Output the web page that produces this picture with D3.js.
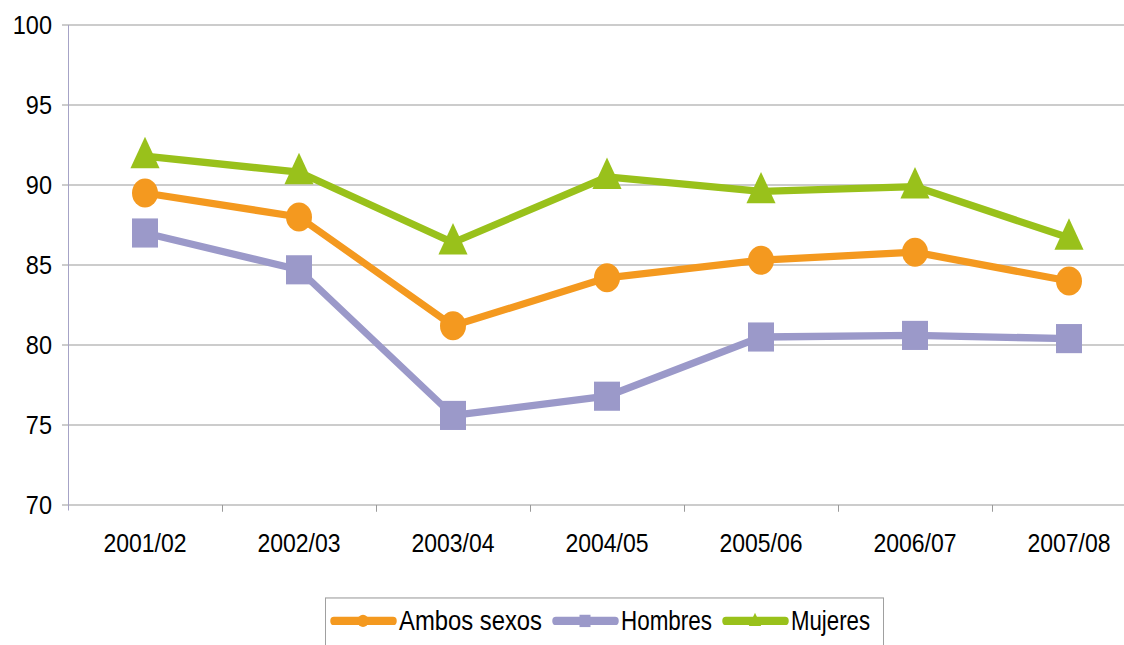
<!DOCTYPE html>
<html>
<head>
<meta charset="utf-8">
<script src="https://cdn.jsdelivr.net/npm/d3@7"></script>
<style>
  html, body { margin: 0; padding: 0; background: #fff; overflow: hidden; }
  svg { display: block; font-family: "Liberation Sans", Arial, sans-serif; }
</style>
</head>
<body>
<div id="chart"></div>
<script>
const categories = ["2001/02", "2002/03", "2003/04", "2004/05", "2005/06", "2006/07", "2007/08"];
const ambosSexos = [89.5, 88.0, 81.2, 84.2, 85.3, 85.8, 84.0];
const hombres    = [87.0, 84.7, 75.6, 76.8, 80.5, 80.6, 80.4];
const mujeres    = [91.8, 90.8, 86.4, 90.5, 89.6, 89.9, 86.7];
const yTicks = [70, 75, 80, 85, 90, 95, 100];

const series = [
  { name: "Ambos sexos", values: ambosSexos, color: "#F4991F", shape: "circle" },
  { name: "Hombres",     values: hombres,    color: "#9B99C9", shape: "square" },
  { name: "Mujeres",     values: mujeres,    color: "#99C11B", shape: "triangle" }
];
// legend text is a bit condensed in the original
const legendTextWidth = [143, 91, 79];

// the reference is stretched vertically, so draw in a shorter box and stretch it
const W = 1124, H = 576;
const svg = d3.select("#chart").append("svg")
  .attr("width", 1124).attr("height", 645)
  .attr("viewBox", `0 0 ${W} ${H}`)
  .attr("preserveAspectRatio", "none");

const x = d3.scaleBand().domain(categories).range([68, 68 + 7 * 154]);
const y = d3.scaleLinear().domain([70, 100]).range([451, 22.3]);

// gridlines
svg.append("g").selectAll("line").data(yTicks).join("line")
  .attr("x1", 62).attr("x2", W)
  .attr("y1", d => y(d)).attr("y2", d => y(d))
  .attr("stroke", "#9a9a9a").attr("stroke-width", 1);

// y axis line
svg.append("line")
  .attr("x1", 68.5).attr("x2", 68.5)
  .attr("y1", y(100)).attr("y2", y(70) + 5)
  .attr("stroke", "#a6a3c6").attr("stroke-width", 1);

// y labels
svg.append("g").selectAll("text").data(yTicks).join("text")
  .attr("x", 52).attr("y", d => y(d) + 8)
  .attr("text-anchor", "end")
  .attr("font-size", 23.5)
  .attr("fill", "#000")
  .text(d => d);

// x ticks between categories
svg.append("g").selectAll("line").data(categories.slice(1)).join("line")
  .attr("x1", d => Math.round(x(d)) + 0.5).attr("x2", d => Math.round(x(d)) + 0.5)
  .attr("y1", y(70)).attr("y2", y(70) + 6)
  .attr("stroke", "#9a9a9a").attr("stroke-width", 1);

// x labels
svg.append("g").selectAll("text").data(categories).join("text")
  .attr("x", d => x(d) + x.bandwidth() / 2)
  .attr("y", 493)
  .attr("text-anchor", "middle")
  .attr("font-size", 23)
  .attr("fill", "#000")
  .text(d => d);

function drawMarker(g, shape, cx, cy, size, color) {
  if (shape === "circle") {
    g.append("circle").attr("cx", cx).attr("cy", cy).attr("r", size / 2).attr("fill", color);
  } else if (shape === "square") {
    g.append("rect").attr("x", cx - size / 2).attr("y", cy - size / 2)
      .attr("width", size).attr("height", size).attr("fill", color);
  } else {
    const w = size * 1.12, h = size * 1.08;
    g.append("path")
      .attr("d", `M${cx},${cy - h * 0.62}L${cx + w / 2},${cy + h * 0.38}L${cx - w / 2},${cy + h * 0.38}Z`)
      .attr("fill", color);
  }
}

const line = d3.line()
  .x((d, i) => x(categories[i]) + x.bandwidth() / 2)
  .y(d => y(d));

series.forEach(s => {
  const g = svg.append("g");
  g.append("path").attr("d", line(s.values))
    .attr("fill", "none").attr("stroke", s.color)
    .attr("stroke-width", 6.5).attr("stroke-linejoin", "round");
  s.values.forEach((v, i) => {
    drawMarker(g, s.shape, x(categories[i]) + x.bandwidth() / 2, y(v), 26, s.color);
  });
});

// legend
const legend = svg.append("g");
legend.append("rect")
  .attr("x", 325.5).attr("y", 534).attr("width", 558).attr("height", 60)
  .attr("fill", "#fff").attr("stroke", "#a0a0a0").attr("stroke-width", 1);

let lx = 331;
const ly = 554.5;
series.forEach((s, i) => {
  legend.append("line")
    .attr("x1", lx + 3).attr("x2", lx + 62).attr("y1", ly).attr("y2", ly)
    .attr("stroke", s.color).attr("stroke-width", 7.5).attr("stroke-linecap", "round");
  drawMarker(legend, s.shape, lx + 32, ly, 11, s.color);
  legend.append("text")
    .attr("x", lx + 68).attr("y", ly + 8.5)
    .attr("font-size", 24).attr("fill", "#000")
    .attr("textLength", legendTextWidth[i])
    .attr("lengthAdjust", "spacingAndGlyphs")
    .text(s.name);
  lx += 68 + legendTextWidth[i] + 11;
});
</script>
</body>
</html>
